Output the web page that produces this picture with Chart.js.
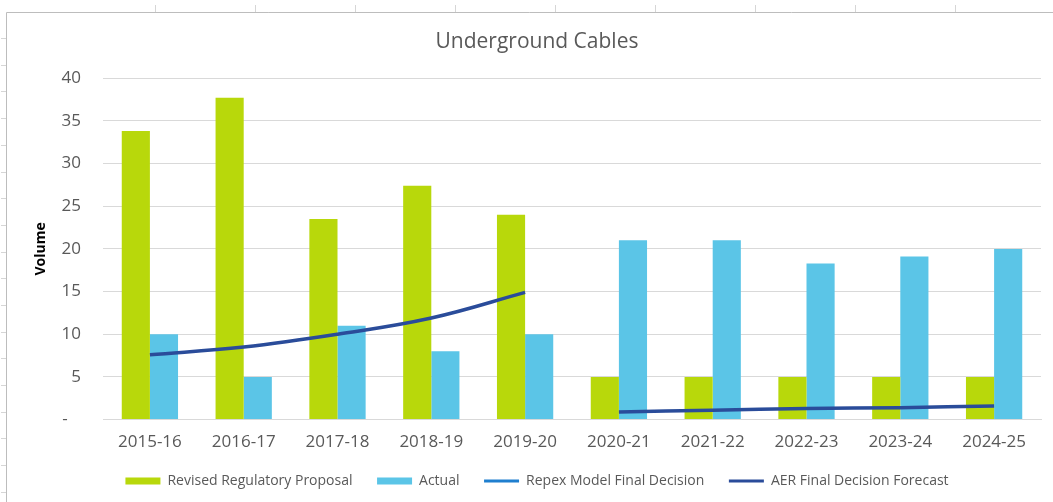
<!DOCTYPE html>
<html>
<head>
<meta charset="utf-8">
<script src="https://cdn.jsdelivr.net/npm/chart.js@4.4.1/dist/chart.umd.min.js"></script>
<style>
  html, body { margin: 0; padding: 0; background: #ffffff; }
  #wrap { position: absolute; left: 0; top: 0; width: 1053px; height: 502px; }
</style>
</head>
<body>
<div id="wrap"><canvas id="c" width="1053" height="502"></canvas></div>
<script>
const categories = ['2015-16', '2016-17', '2017-18', '2018-19', '2019-20', '2020-21', '2021-22', '2022-23', '2023-24', '2024-25'];
const revisedRegulatoryProposal = [33.8, 37.7, 23.5, 27.4, 24.0, 5, 5, 5, 5, 5];
const actual = [10, 5, 11, 8, 10, 21, 21, 18.3, 19.1, 20];
const repexModelFinalDecision = [null, null, null, null, null, null, null, null, null, null];
const aerFinalDecisionForecast = [7.6, 8.5, 10.0, 11.9, 14.9, 0.9, 1.1, 1.3, 1.4, 1.6];
const yTicks = [0, 5, 10, 15, 20, 25, 30, 35, 40];

const GREEN = '#b8d80b';
const BLUE = '#5bc5e7';
const NAVY = '#2a4c9a';
const REPEX = '#1f7fcf';

// the AER forecast is drawn as two separate runs (2015-20 and 2020-25)
const aerRunA = aerFinalDecisionForecast.map((v, i) => i <= 4 ? v : null);
const aerRunB = aerFinalDecisionForecast.map((v, i) => i >= 5 ? v : null);

const frame = {
  id: 'frame',
  beforeDraw(chart) {
    const ctx = chart.ctx;
    ctx.save();
    ctx.strokeStyle = '#bdbdbd';
    ctx.lineWidth = 1;
    ctx.beginPath();
    ctx.moveTo(6.5, 12.5); ctx.lineTo(1053, 12.5);
    ctx.moveTo(6.5, 12.5); ctx.lineTo(6.5, 502);
    ctx.stroke();
    ctx.strokeStyle = '#d6d6d6';
    ctx.beginPath();
    for (let x = 155; x < 1053; x += 100) { ctx.moveTo(x + 0.5, 5); ctx.lineTo(x + 0.5, 12); }
    for (let y = 38; y < 502; y += 26.7) { ctx.moveTo(1, Math.round(y) + 0.5); ctx.lineTo(6, Math.round(y) + 0.5); }
    ctx.stroke();
    ctx.restore();
  }
};

const SP = '    ';

new Chart(document.getElementById('c'), {
  data: {
    labels: categories,
    datasets: [
      { type: 'bar', label: 'Revised Regulatory Proposal', data: revisedRegulatoryProposal, backgroundColor: GREEN, order: 3, categoryPercentage: 0.6, barPercentage: 1.0 },
      { type: 'bar', label: 'Actual', data: actual, backgroundColor: BLUE, order: 4, categoryPercentage: 0.6, barPercentage: 1.0 },
      { type: 'line', label: 'Repex Model Final Decision', data: repexModelFinalDecision, borderColor: REPEX, backgroundColor: REPEX, borderWidth: 3, pointRadius: 0, order: 2 },
      { type: 'line', label: 'AER Final Decision Forecast', data: aerRunA, borderColor: NAVY, backgroundColor: NAVY, borderWidth: 3.5, pointRadius: 0, tension: 0.4, spanGaps: false, order: 1 },
      { type: 'line', label: 'AER Final Decision Forecast (2020-25)', data: aerRunB, borderColor: NAVY, backgroundColor: NAVY, borderWidth: 3.5, pointRadius: 0, tension: 0.4, spanGaps: false, order: 1 }
    ]
  },
  options: {
    responsive: false,
    animation: false,
    layout: { padding: { left: 33, right: 12, top: 0, bottom: 4 } },
    plugins: {
      title: {
        display: true,
        text: 'Underground Cables',
        color: '#595959',
        font: { family: 'Open Sans', size: 21, weight: 'normal' },
        padding: { top: 29, bottom: 24 }
      },
      legend: {
        position: 'bottom',
        labels: {
          color: '#595959',
          font: { family: 'Open Sans', size: 14 },
          usePointStyle: true,
          pointStyleWidth: 35,
          boxHeight: 7,
          padding: 10,
          generateLabels(chart) {
            const ds = chart.data.datasets.slice(0, 4);
            return ds.map((d, i) => {
              const isLine = d.type === 'line';
              return {
                text: d.label + (i < ds.length - 1 ? SP : ''),
                fillStyle: d.backgroundColor,
                strokeStyle: isLine ? d.borderColor : d.backgroundColor,
                lineWidth: isLine ? 3 : 0,
                pointStyle: isLine ? 'line' : 'rect',
                fontColor: '#595959',
                hidden: false,
                datasetIndex: i
              };
            });
          }
        }
      },
      tooltip: { enabled: false }
    },
    scales: {
      x: {
        grid: { display: false, drawTicks: false },
        border: { display: true, color: '#d9d9d9' },
        ticks: { color: '#595959', font: { family: 'Open Sans', size: 17 }, padding: 12, maxRotation: 0 }
      },
      y: {
        min: 0, max: 40,
        afterFit(scale) { scale.width = 70; },
        afterBuildTicks(scale) { scale.ticks = yTicks.map(v => ({ value: v })); },
        grid: { color: '#d9d9d9', drawTicks: false },
        border: { display: false },
        ticks: {
          color: '#595959', font: { family: 'Open Sans', size: 17 }, padding: 22,
          callback: v => v === 0 ? '-   ' : String(v)
        },
        title: { display: true, text: 'Volume', color: '#000000', font: { family: 'Open Sans', size: 14, weight: 'bold' }, padding: 0 }
      }
    }
  },
  plugins: [frame]
});
</script>
</body>
</html>
